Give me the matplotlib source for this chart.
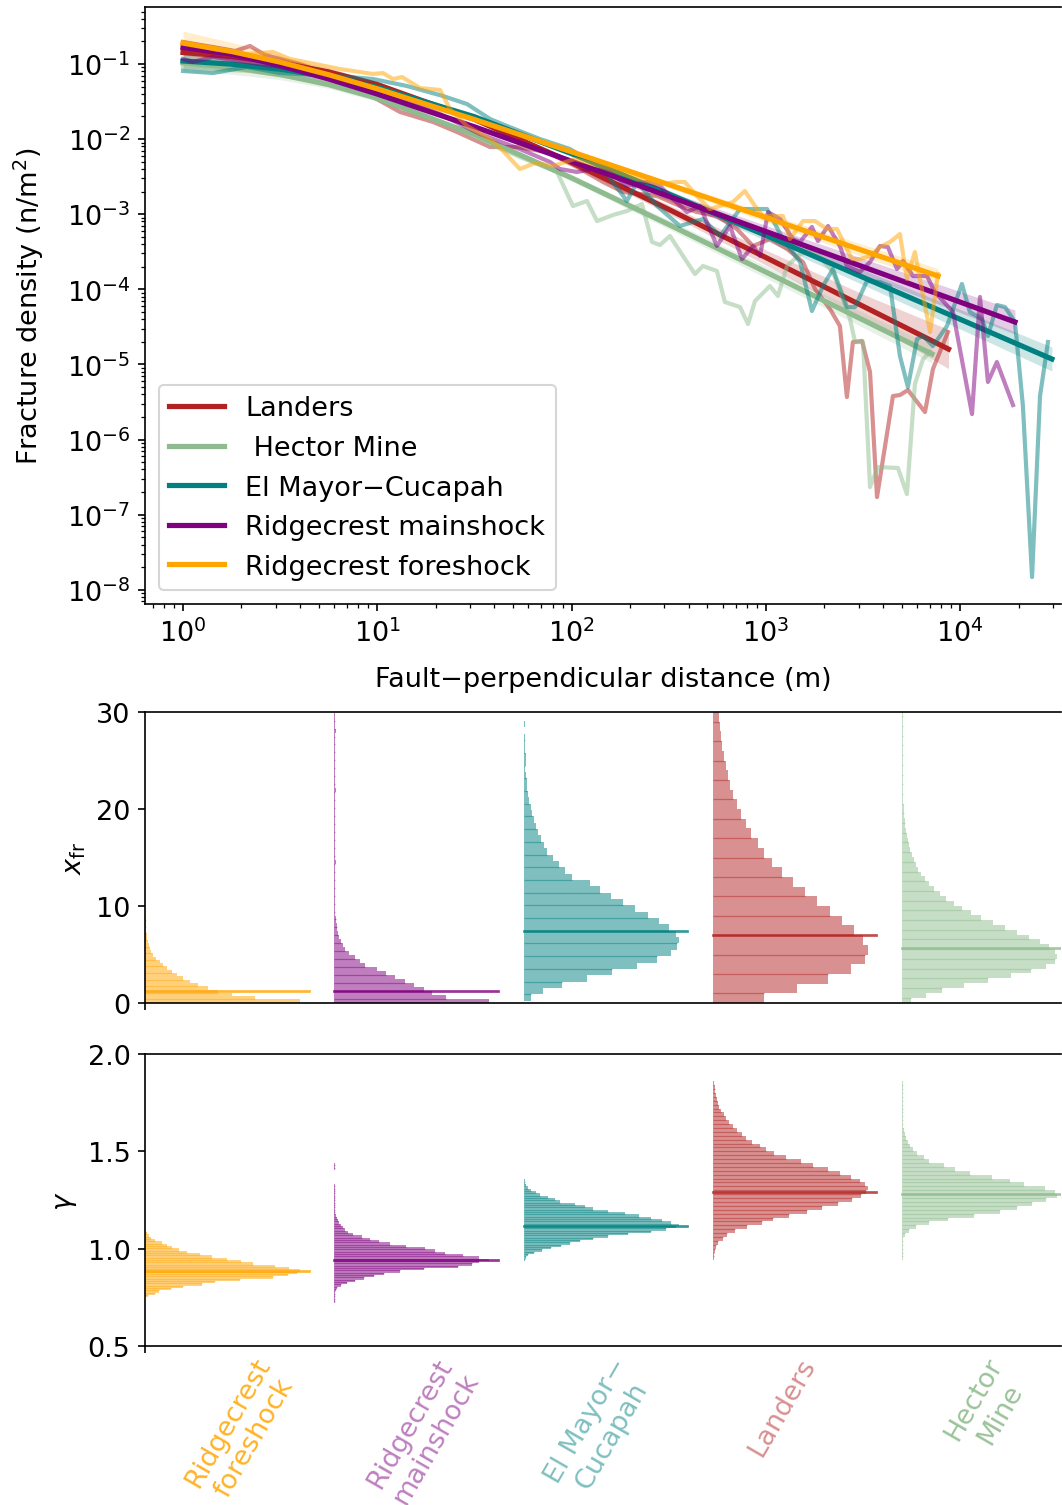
import numpy as np
import matplotlib.pyplot as plt
from matplotlib.colors import to_rgba

plt.rcParams['font.size'] = 13

# ----------------------------- top panel data -----------------------------
EVENTS = ["Landers", " Hector Mine", "El Mayor\u2212Cucapah",
          "Ridgecrest mainshock", "Ridgecrest foreshock"]
COLORS = ["firebrick", "darkseagreen", "teal", "purple", "orange"]

# observed profiles: log10 distance (m), log10 fracture density (n/m^2)
LAND_LOGX = [0, 0.154, 0.268, 0.345, 0.422, 0.602, 0.808, 0.978, 1.117, 1.287,
             1.410, 1.580, 1.719, 1.873, 2.028, 2.162, 2.265, 2.440, 2.558, 2.645,
             2.748, 2.851, 2.934, 3.021, 3.109, 3.191, 3.253, 3.330, 3.381, 3.417,
             3.448, 3.495, 3.536, 3.572, 3.654, 3.690, 3.731, 3.819, 3.860, 3.937]
LAND_LOGN = [-0.707, -0.774, -0.827, -0.760, -0.880, -1.000, -1.200, -1.439, -1.639, -1.772,
             -1.905, -2.105, -2.105, -2.172, -2.372, -2.571, -2.704, -2.758, -2.891, -2.971,
             -3.024, -3.197, -3.424, -3.330, -3.463, -3.637, -3.996, -4.262, -4.489, -5.434,
             -4.702, -4.688, -5.101, -6.766, -5.421, -5.408, -5.341, -5.634, -5.061, -4.569]

HECT_LOGX = [0, 0.154, 0.345, 0.550, 0.756, 0.978, 1.168, 1.374, 1.580, 1.734,
             1.925, 2.007, 2.079, 2.131, 2.213, 2.285, 2.362, 2.414, 2.455, 2.506,
             2.594, 2.635, 2.676, 2.748, 2.789, 2.867, 2.908, 2.944, 3.021, 3.062,
             3.109, 3.176, 3.253, 3.345, 3.433, 3.459, 3.500, 3.536, 3.577, 3.680,
             3.726, 3.767, 3.809, 3.845]
HECT_LOGN = [-1.040, -1.067, -1.093, -1.173, -1.266, -1.426, -1.599, -1.826, -2.065, -2.238,
             -2.438, -2.891, -2.824, -3.091, -3.011, -2.957, -2.864, -3.370, -3.410, -3.290,
             -3.637, -3.796, -3.690, -3.756, -4.169, -4.236, -4.462, -4.156, -3.956, -4.089,
             -3.690, -3.530, -3.490, -3.770, -4.395, -4.702, -4.702, -6.633, -6.366, -6.379,
             -6.726, -5.261, -4.928, -4.835]

ELM_LOGX = [0, 0.154, 0.329, 0.499, 0.705, 0.859, 0.978, 1.153, 1.338, 1.462,
            1.580, 1.668, 1.837, 1.992, 2.162, 2.285, 2.337, 2.440, 2.558, 2.676,
            2.764, 2.867, 3.006, 3.088, 3.176, 3.237, 3.294, 3.345, 3.417, 3.459,
            3.520, 3.587, 3.639, 3.690, 3.731, 3.778, 3.809, 3.860, 3.932, 4.009,
            4.050, 4.112, 4.143, 4.189, 4.231, 4.282, 4.323, 4.370, 4.411, 4.452]
ELM_LOGN = [-1.093, -1.120, -1.040, -1.120, -1.146, -1.173, -1.200, -1.293, -1.426, -1.533,
            -1.732, -1.826, -1.999, -2.132, -2.398, -2.824, -2.571, -2.891, -3.157, -3.064,
            -3.290, -2.931, -2.931, -3.330, -3.637, -4.289, -3.956, -3.730, -4.236, -4.236,
            -3.889, -3.903, -3.956, -4.888, -5.301, -4.662, -4.622, -4.755, -4.489, -3.929,
            -4.302, -4.395, -4.622, -4.209, -4.236, -4.435, -5.554, -7.831, -5.421, -4.702]

MAIN_LOGX = [0, 0.051, 0.154, 0.329, 0.499, 0.705, 0.911, 1.117, 1.323, 1.529,
             1.734, 1.889, 1.940, 2.028, 2.110, 2.198, 2.285, 2.388, 2.455, 2.522,
             2.594, 2.661, 2.748, 2.815, 2.877, 2.934, 2.970, 3.011, 3.073, 3.139,
             3.176, 3.237, 3.268, 3.320, 3.381, 3.417, 3.484, 3.536, 3.587, 3.628,
             3.675, 3.706, 3.757, 3.829, 3.870, 3.963, 4.061, 4.102, 4.143, 4.189,
             4.272]
MAIN_LOGN = [-0.933, -0.973, -0.907, -0.973, -1.040, -1.146, -1.306, -1.466, -1.666, -1.932,
             -2.132, -2.305, -2.398, -2.438, -2.398, -2.438, -2.624, -2.571, -2.624, -2.798,
             -2.971, -2.891, -3.423, -3.157, -3.597, -3.423, -3.557, -2.971, -3.064, -3.330,
             -3.370, -3.170, -3.357, -3.157, -3.423, -3.690, -3.770, -3.637, -3.423, -3.437,
             -3.730, -3.623, -3.823, -3.823, -4.036, -4.302, -5.661, -4.102, -5.234, -4.968,
             -5.541]

FORE_LOGX = [0, 0.154, 0.329, 0.463, 0.550, 0.653, 0.808, 0.978, 1.029, 1.081,
             1.127, 1.220, 1.323, 1.374, 1.462, 1.580, 1.647, 1.734, 1.812, 1.904,
             2.017, 2.146, 2.337, 2.455, 2.542, 2.583, 2.645, 2.712, 2.830, 2.892,
             2.944, 2.985, 3.088, 3.124, 3.191, 3.253, 3.314, 3.366, 3.443, 3.484,
             3.536, 3.587, 3.639, 3.690, 3.726, 3.767, 3.793, 3.845, 3.886]
FORE_LOGN = [-0.707, -0.800, -0.867, -0.840, -0.933, -0.987, -1.067, -1.133, -1.120, -1.200,
             -1.173, -1.320, -1.346, -1.599, -1.826, -1.999, -2.158, -2.398, -2.318, -2.358,
             -2.265, -2.358, -2.531, -2.598, -2.571, -2.571, -2.758, -2.931, -2.838, -2.691,
             -2.891, -3.024, -3.024, -3.330, -3.091, -3.091, -3.197, -3.197, -3.597, -3.597,
             -3.557, -3.437, -3.370, -3.264, -3.863, -3.503, -3.863, -4.569, -3.796]

# best-fit model curves and their uncertainty half-width (log10 units)
LAND_FIT_X = [0, 0.25, 0.5, 0.75, 1.0, 1.5, 2.0, 2.5, 3.0, 3.5, 3.94]
LAND_FIT_N = [-0.847, -0.900, -0.983, -1.105, -1.273, -1.737, -2.311, -2.936, -3.577, -4.225, -4.796]
LAND_BAND = [0.10, 0.08, 0.06, 0.05, 0.04, 0.03, 0.04, 0.06, 0.10, 0.16, 0.26]

HECT_FIT_X = [0, 0.25, 0.5, 0.75, 1.0, 1.5, 2.0, 2.5, 3.0, 3.5, 3.855]
HECT_FIT_N = [-0.984, -1.045, -1.139, -1.275, -1.457, -1.939, -2.517, -3.137, -3.770, -4.408, -4.861]
HECT_BAND = [0.12, 0.09, 0.07, 0.05, 0.04, 0.03, 0.04, 0.06, 0.08, 0.10, 0.12]

ELM_FIT_X = [0, 0.25, 0.5, 0.75, 1.0, 1.5, 2.0, 2.5, 3.0, 3.5, 4.0, 4.472]
ELM_FIT_N = [-0.960, -1.002, -1.070, -1.171, -1.311, -1.702, -2.194, -2.730, -3.282, -3.840, -4.399, -4.928]
ELM_BAND = [0.10, 0.08, 0.06, 0.05, 0.04, 0.03, 0.03, 0.05, 0.07, 0.10, 0.13, 0.16]

MAIN_FIT_X = [0, 0.25, 0.5, 0.75, 1.0, 1.5, 2.0, 2.5, 3.0, 3.5, 4.0, 4.282]
MAIN_FIT_N = [-0.780, -0.869, -1.020, -1.200, -1.400, -1.836, -2.295, -2.762, -3.230, -3.700, -4.170, -4.435]
MAIN_BAND = [0.10, 0.08, 0.06, 0.05, 0.04, 0.03, 0.04, 0.06, 0.08, 0.11, 0.14, 0.16]

FORE_FIT_X = [0, 0.25, 0.5, 0.75, 1.0, 1.5, 2.0, 2.5, 3.0, 3.5, 3.886]
FORE_FIT_N = [-0.722, -0.833, -0.975, -1.143, -1.330, -1.739, -2.169, -2.605, -3.044, -3.484, -3.823]
FORE_BAND = [0.16, 0.12, 0.09, 0.07, 0.05, 0.03, 0.03, 0.04, 0.06, 0.08, 0.10]

# ------------------------- posterior histograms -------------------------
HIST_NAMES = ["Ridgecrest\nforeshock", "Ridgecrest\nmainshock", "El Mayor\u2212\nCucapah",
              "Landers", "Hector\nMine"]
HIST_COLORS = ["orange", "purple", "teal", "firebrick", "darkseagreen"]
LABEL_ALPHA = [0.85, 0.5, 0.5, 0.5, 0.9]
LABEL_POS = [0.51, 1.47, 2.40, 3.368, 4.45]

XFR_BIN0 = [0.03, 0.0, 0.24, 0.0, 0.05]
XFR_BINW = [0.34, 0.41, 0.655, 1.0, 0.5]
XFR_FORE = [155, 110, 87, 73, 63, 53, 45, 38, 32, 27, 22, 18, 15, 11, 8, 6, 5, 4, 3,
            2.3, 1.7, 1.3, 1.0, 0.8, 0.8, 0.8]
XFR_MAIN = [156, 112, 98, 90, 80, 71, 61, 52, 43, 31, 26, 21, 15, 11, 9, 7, 5, 4, 3,
            2.3, 1.7, 1.3, 1.0, 1.0, 1.0, 1.0, 1.0,
            1.0, 1.0, 1.0, 1.0, 1.0, 1.0, 1.0, 1.0, 2.0, 1.0, 1.0, 1.0, 1.0, 1.0, 1.0, 1.0,
            1.0, 1.0, 1.0, 1.0, 1.0, 1.0, 1.0, 1.0, 1.0, 1.0, 2.0, 1.0, 1.0, 1.0, 1.0, 1.0,
            1.0, 1.0, 1.0, 1.0, 1.0, 1.0, 1.0, 1.0, 1.0, 2.0, 1.0, 1.0, 1.0, 1.0]
XFR_ELM = [7.3, 19.3, 38.3, 63.3, 88.7, 113.7, 133.7, 147.7, 154.4, 155.7, 152.7, 145.7,
           135.7, 124.7, 111.7, 99.7, 87.7, 76.7, 66.7, 48.3, 41.7, 35.7, 29.3, 24, 20.7,
           17.3, 14.3, 12.3, 10.3, 8.3, 7.3, 6, 5, 4, 3.3, 2.7, 1.7, 2.3, 2, 1.3, 1, 1,
           0.7, 1.3, 0.5]
XFR_LAND = [52, 85, 116, 139, 153, 156, 151, 142, 130, 118, 105, 93, 81, 70, 60, 52, 45,
            38, 33, 28, 24, 20, 17, 15, 13, 11, 9, 8, 7, 6]
XFR_HECT = [8.7, 23.7, 39.7, 61.7, 86.7, 109.7, 129.7, 144.7, 153.7, 155.7, 153.7, 147.7,
            138.7, 127.7, 115.7, 103.7, 91.7, 79.7, 69.7, 59.7, 51.7, 43.7, 37.7, 31.7,
            26.7, 22.7, 18.7, 15.7, 13.7, 11.7, 9.7, 7.7, 6.7, 5.7, 4.7, 3.7, 3, 2.7, 2.3,
            2, 1.7, 1.3, 1.3, 1, 1, 1, 1, 0.9, 0.9, 0.8, 0.8, 0.8, 0.8, 0.7, 0.7, 0.7,
            0.6, 0.6, 0.6, 0.6]
XFR_BEST = [1.24, 1.27, 7.42, 7.0, 5.67]

GAM_BIN0 = [0.75, 0.72, 0.84, 0.86, 0.94]
GAM_BINW = [0.012, 0.012, 0.012, 0.02, 0.02]
GAM_FORE = [3, 10, 14, 26, 38, 57, 70, 95, 128, 143, 152, 155, 144, 130, 108, 96, 82, 67,
            55, 42, 34, 27, 22, 17, 10, 6, 3.5, 2, 1]
GAM_MAIN = [0.8, 0.8, 0.8, 0.8, 1, 1.5, 3, 7, 13, 21, 30, 40, 50, 66, 90, 124, 138, 146,
            156, 146, 129, 111, 101, 91, 72, 56, 45, 36, 28, 19, 14, 11, 9, 7, 5, 4, 2.5,
            1.5, 1, 0.8, 0.8, 0.8, 0.8, 0.8, 0.8, 0.8, 0.8, 0.8, 0.8, 0.8, 0.8,
            0, 0, 0, 0, 0, 0, 0.8, 0.8, 0.8]
GAM_ELM = [0.5, 0.5, 0.5, 0.6, 0.6, 0.7, 0.7, 0.8, 1.0, 2.7, 5, 11, 19, 28, 38, 47, 57,
           70, 85, 105, 128, 143, 153, 156, 148, 139, 128, 116, 102, 85, 70, 62, 52, 37,
           32, 25, 17, 13, 8, 5, 3, 1.8, 1.0,
           0.7, 0.7, 0.7, 0.7, 0.7, 0.7, 0.7, 0.7, 0.7, 0.7, 0.7, 0.7, 0, 0, 0.7, 0, 0.7]
GAM_LAND = [0.5, 0.5, 0.5, 0.6, 0.8, 1.3, 2, 3.2, 5, 10, 14, 22, 34, 49, 61, 77, 95, 110,
            126, 140, 149, 154, 156, 153, 148, 139, 128, 116, 101, 89, 74, 62, 54, 47, 39,
            33, 29, 24, 20, 16, 13, 11, 8.7, 6.7, 5.3, 4, 3.3, 2.7, 2, 1.3,
            0.6, 0.6, 0.6, 0.6, 0.6, 0.6, 0.6]
GAM_HECT = [0.6, 0.6, 0.6, 0.6, 0.6, 1.0, 3, 7, 14, 27, 46, 72, 98, 116, 131, 145, 156,
            154, 144, 123, 109, 90, 68, 53, 42, 27, 22, 15, 11, 8.5, 6, 4.3, 2.7, 1.7, 0.8,
            0.6, 0.6, 0.6, 0.6, 0.6, 0.6, 0.6, 0.6, 0.6, 0.6, 0.6]
GAM_BEST = [0.884, 0.943, 1.118, 1.289, 1.280]

BAR_MAX = 0.82     # widest bar, in slot units
BEST_LEN = 0.865   # length of the best-fit marker line

# ------------------------------- figure -------------------------------
W, H = 1062, 1506
fig = plt.figure(figsize=(W / 150, H / 150), dpi=150)


def rect(l, t, r, b):
    return [l / W, 1 - b / H, (r - l) / W, (b - t) / H]


ax1 = fig.add_axes(rect(145, 8, 1061, 605))
ax2 = fig.add_axes(rect(145, 713, 1061, 1004))
ax3 = fig.add_axes(rect(145, 1055, 1061, 1347))

obs = [(LAND_LOGX, LAND_LOGN), (HECT_LOGX, HECT_LOGN), (ELM_LOGX, ELM_LOGN),
       (MAIN_LOGX, MAIN_LOGN), (FORE_LOGX, FORE_LOGN)]
fits = [(LAND_FIT_X, LAND_FIT_N, LAND_BAND), (HECT_FIT_X, HECT_FIT_N, HECT_BAND),
        (ELM_FIT_X, ELM_FIT_N, ELM_BAND), (MAIN_FIT_X, MAIN_FIT_N, MAIN_BAND),
        (FORE_FIT_X, FORE_FIT_N, FORE_BAND)]

for name, c, (lx, ln), (fx, fn, bd) in zip(EVENTS, COLORS, obs, fits):
    fx, fn, bd = np.array(fx), np.array(fn), np.array(bd)
    ax1.plot(10 ** np.array(lx), 10 ** np.array(ln), color=c, alpha=0.5, lw=2)
    ax1.plot(10 ** fx, 10 ** fn, color=c, lw=2.5, label=name)
    ax1.fill_between(10 ** fx, 10 ** (fn - bd), 10 ** (fn + bd), color=c, alpha=0.2, lw=0)

ax1.set_xscale('log')
ax1.set_yscale('log')
ax1.set_xlim(10 ** -0.1956, 10 ** 4.519)
ax1.set_ylim(10 ** -8.19, 10 ** -0.241)
ax1.set_xlabel("Fault\u2212perpendicular distance (m)", labelpad=9)
ax1.set_ylabel("Fracture density (n/m$^2$)", labelpad=10)
ax1.legend(loc='lower left')
ax1.spines['right'].set_visible(False)


def draw_posteriors(ax, counts, bin0, binw, best, seam_step):
    for i, (cnt, b0, bw, c, v) in enumerate(zip(counts, bin0, binw, HIST_COLORS, best)):
        cnt = np.asarray(cnt, float)
        lo = b0 + bw * np.arange(len(cnt))
        width = cnt / cnt.max() * BAR_MAX
        ax.barh(lo, width, height=bw, left=i, align='edge',
                color=c, alpha=0.5, linewidth=0)
        # faint seams between neighbouring bins
        seam = np.minimum(width[1:], width[:-1])
        ax.hlines(lo[1::seam_step], i, i + seam[::seam_step],
                  color=c, alpha=0.45, lw=0.6)
        ax.plot([i, i + BEST_LEN], [v, v], color=c, lw=1.3, alpha=0.8)
    ax.set_xlim(0, 4.84)
    ax.spines['right'].set_visible(False)
    ax.set_xticks([0])
    ax.set_xticklabels([''])


draw_posteriors(ax2, [XFR_FORE, XFR_MAIN, XFR_ELM, XFR_LAND, XFR_HECT],
                XFR_BIN0, XFR_BINW, XFR_BEST, 2)
ax2.set_ylim(0, 30)
ax2.set_yticks([0, 10, 20, 30])
ax2.set_ylabel(r"$x_{\rm fr}$")

draw_posteriors(ax3, [GAM_FORE, GAM_MAIN, GAM_ELM, GAM_LAND, GAM_HECT],
                GAM_BIN0, GAM_BINW, GAM_BEST, 1)
ax3.set_ylim(0.5, 2.0)
ax3.set_yticks([0.5, 1.0, 1.5, 2.0])
ax3.set_ylabel(r"$\gamma$")

ax3.set_xticks(LABEL_POS, minor=True)
ax3.set_xticklabels(HIST_NAMES, minor=True, rotation=60, ha='center')
ax3.tick_params(axis='x', which='minor', length=0, labelsize=13)
for lab, c, a in zip(ax3.get_xticklabels(minor=True), HIST_COLORS, LABEL_ALPHA):
    lab.set_color(to_rgba(c, a))

fig.savefig("out.png", dpi=150)
